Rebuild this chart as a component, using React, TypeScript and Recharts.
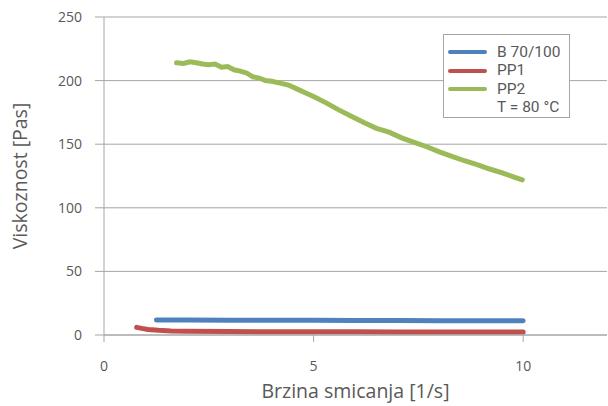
import React from "react";
import { LineChart, Line, XAxis, YAxis, CartesianGrid } from "recharts";

const seriesNames = ["B 70/100", "PP1", "PP2"];
const seriesColors = ["#4F81BD", "#C0504D", "#9BBB59"];
const legendNote = "T = 80 °C";

const xTicks = [0, 5, 10];
const yTicks = [0, 50, 100, 150, 200, 250];

const b70X = [1.25, 2, 3, 4, 5, 6, 7, 8, 9, 10];
const b70Y = [11.8, 11.7, 11.6, 11.5, 11.5, 11.4, 11.4, 11.3, 11.3, 11.2];

const pp1X = [0.78, 0.9, 1.05, 1.3, 1.6, 2, 3, 4, 5, 6, 7, 8, 9, 10];
const pp1Y = [6, 5.2, 4.4, 3.7, 3.2, 2.9, 2.7, 2.6, 2.5, 2.5, 2.4, 2.4, 2.3, 2.3];

const pp2X = [1.73, 1.9, 2.05, 2.2, 2.35, 2.5, 2.65, 2.8, 2.95, 3.1, 3.25, 3.4, 3.55, 3.7, 3.85, 4.0, 4.2, 4.4, 4.6, 4.8, 5.0, 5.3, 5.6, 5.9, 6.2, 6.5, 6.8, 7.1, 7.4, 7.7, 8.0, 8.3, 8.6, 8.9, 9.2, 9.5, 9.8, 9.98];
const pp2Y = [214, 213.5, 214.8, 214, 213, 212.5, 213, 210.5, 211, 208.5, 207.5, 206, 203, 202, 200, 199.5, 198, 196.5, 193.5, 190.5, 187.5, 182.5, 177, 172, 167, 162.5, 159.5, 155, 151.5, 148, 144, 140.5, 137, 134, 130.5, 127.5, 124, 122];

const toPoints = (xs: number[], ys: number[]) => xs.map((x, i) => ({ x, y: ys[i] }));
const seriesData = [toPoints(b70X, b70Y), toPoints(pp1X, pp1Y), toPoints(pp2X, pp2Y)];

const FONT = "'Open Sans', 'Noto Sans', sans-serif";
const LEGEND_FONT = "Roboto, 'Open Sans', sans-serif";
const TEXT = "#595959";
const GRID = "#a6a6a6";

const LegendBox = () => (
  <div
    style={{
      position: "absolute",
      left: 443,
      top: 34,
      width: 127,
      height: 84,
      border: `1px solid ${GRID}`,
      background: "#fff",
      padding: "8px 0 0 4px",
      fontFamily: LEGEND_FONT,
      fontSize: 15.5,
      color: TEXT,
      lineHeight: "18.4px",
      boxSizing: "border-box",
      whiteSpace: "nowrap",
    }}
  >
    {seriesNames.map((n, i) => (
      <div key={n} style={{ display: "flex", alignItems: "center", height: 18.4 }}>
        <span style={{ display: "inline-block", width: 39, height: 4, borderRadius: 2, background: seriesColors[i], marginRight: 10 }} />
        <span>{n}</span>
      </div>
    ))}
    <div style={{ paddingLeft: 49, height: 18.4 }}>{legendNote}</div>
  </div>
);

export default function App() {
  return (
    <div style={{ position: "absolute", left: 0, top: 0, width: 608, height: 406, background: "#fff" }}>
      <LineChart width={608} height={406} margin={{ top: 17, right: 1, left: 0, bottom: 20 }}>
        <CartesianGrid horizontal vertical={false} stroke={GRID} strokeWidth={1} />
        <XAxis
          type="number"
          dataKey="x"
          domain={[0, 12]}
          ticks={xTicks}
          allowDuplicatedCategory={false}
          stroke={GRID}
          tickSize={7}
          tickMargin={19}
          tick={{ fill: TEXT, fontSize: 14, fontFamily: FONT }}
          height={51}
          label={{ value: "Brzina smicanja [1/s]", position: "insideBottom", offset: -12, fill: TEXT, fontSize: 19.5, fontFamily: FONT }}
        />
        <YAxis
          type="number"
          dataKey="y"
          domain={[0, 250]}
          ticks={yTicks}
          stroke={GRID}
          tickSize={9}
          tickMargin={13}
          width={104}
          tick={{ fill: TEXT, fontSize: 14, fontFamily: FONT }}
          label={{ value: "Viskoznost [Pas]", angle: -90, position: "insideLeft", offset: 20, fill: TEXT, fontSize: 19.5, fontFamily: FONT, style: { textAnchor: "middle" } }}
        />
        {seriesNames.map((n, i) => (
          <Line
            key={n}
            data={seriesData[i]}
            dataKey="y"
            name={n}
            type="linear"
            stroke={seriesColors[i]}
            strokeWidth={5}
            strokeLinecap="round"
            dot={false}
            isAnimationActive={false}
          />
        ))}
      </LineChart>
      <LegendBox />
    </div>
  );
}
